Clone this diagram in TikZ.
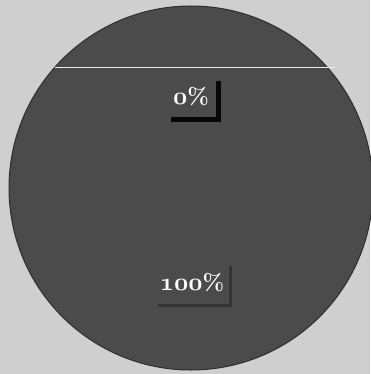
\documentclass[tikz,border=0pt]{standalone}
\usepackage{fontspec}
\usetikzlibrary{shadows}

\definecolor{fundo}{HTML}{CFCFCF}
\definecolor{disco}{HTML}{4B4B4B}
\definecolor{borda}{HTML}{2E2E2E}

% algarismos antigos em negrito
\newcommand{\numant}[1]{{\usefont{OML}{cmm}{b}{it}#1}}

\begin{document}
\begin{tikzpicture}[
    x=1pt, y=-1pt,
    % Rótulos com sombra
    rot/.style={
        fill=disco, text=white, inner sep=0pt,
        minimum width=50pt, minimum height=41pt,
        font=\fontsize{23}{25}\selectfont\bfseries
    },
    sombra/.style={drop shadow={shadow xshift=5pt, shadow yshift=-5pt, fill=black, opacity=0.9}},
    sombrafraca/.style={drop shadow={shadow xshift=3pt, shadow yshift=-3pt, fill=black, opacity=0.3}},
    linha/.style={draw=white!85!gray, line width=0.6pt}
]

% ---- FUNDO ----
\fill[fundo] (0, 0) rectangle (370, 374);
\useasboundingbox (0, 0) rectangle (370, 374);

% ---- DISCO ----
\node[circle, draw=borda, fill=disco, line width=1pt,
      minimum size=364pt, inner sep=0pt] (disco) at (191, 188) {};

% ---- LINHA HORIZONTAL ----
\coordinate (l_esq) at (55, 67);
\coordinate (l_dir) at (335, 67);
\draw[linha] (l_esq) -- (l_dir);

% ---- RÓTULOS ----
\node[rot, sombra]      (zero) at (191, 97)  {\numant{0}\%};
\node[rot, sombrafraca, minimum width=74pt] (cem) at (192, 283) {\numant{100}\%};

\end{tikzpicture}
\end{document}
